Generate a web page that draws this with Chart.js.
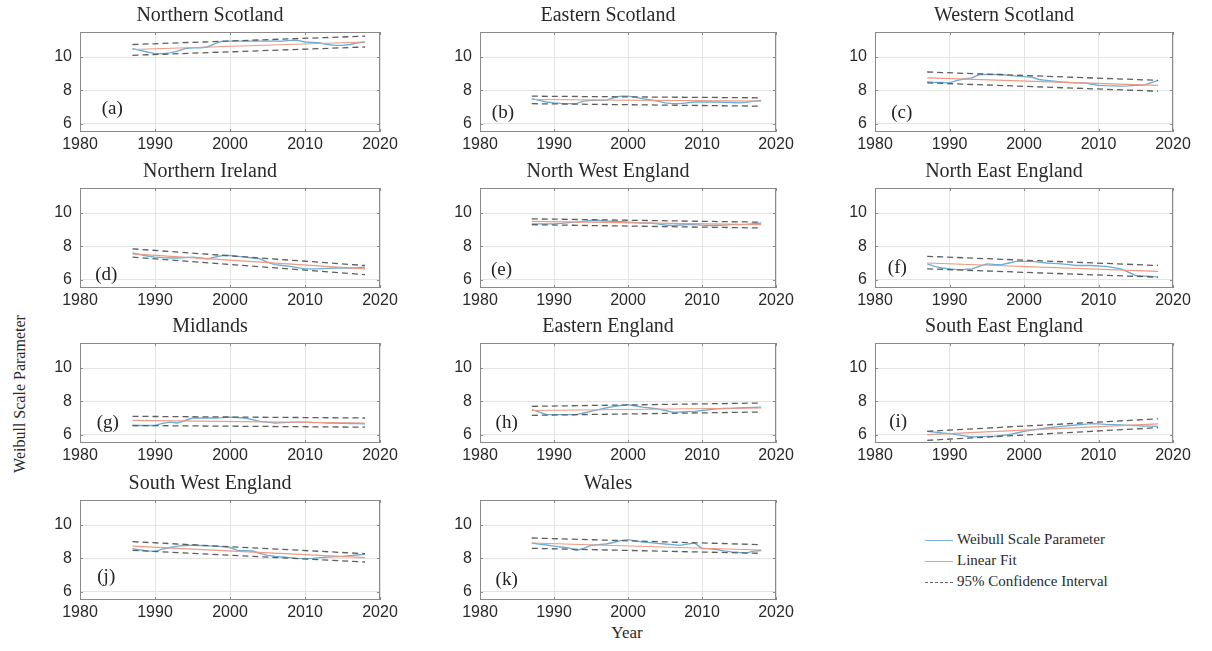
<!DOCTYPE html>
<html lang="en">
<head>
<meta charset="UTF-8">
<title>Weibull Scale Parameter by region</title>
<script src="https://cdn.jsdelivr.net/npm/chart.js@4.4.1/dist/chart.umd.min.js"></script>
<style>
  body { margin: 0; background: #fff; }
  #wrap { position: relative; width: 1212px; height: 651px; overflow: hidden; background: #fff; }
  #wrap canvas { position: absolute; }
  .serif { position: absolute; font-family: 'Liberation Serif', 'DejaVu Serif', serif; color: #2a2a2a; white-space: nowrap; }
  #ylab { left: 20px; top: 394px; font-size: 16px; transform: translate(-50%, -50%) rotate(-90deg); }
  #xlab { left: 627px; top: 633px; font-size: 17px; transform: translate(-50%, -50%); }
  .leg { position: absolute; left: 925px; font-family: 'Liberation Serif', serif; font-size: 15px; color: #2a2a2a; }
  .leg span.ln { position: absolute; left: 0; top: 0; width: 28px; height: 0; }
  .leg span.tx { position: absolute; left: 32px; top: -9px; white-space: nowrap; }
</style>
</head>
<body>
<div id="wrap">
  <div id="ylab" class="serif">Weibull Scale Parameter</div>
  <div id="xlab" class="serif">Year</div>
  <div class="leg" style="top:540px"><span class="ln" style="border-top:1.3px solid #7fb6d8"></span><span class="tx">Weibull Scale Parameter</span></div>
  <div class="leg" style="top:561px"><span class="ln" style="border-top:1.3px solid #eaa08c"></span><span class="tx">Linear Fit</span></div>
  <div class="leg" style="top:582px"><span class="ln" style="border-top:1.3px dashed #666"></span><span class="tx">95% Confidence Interval</span></div>
</div>

<script>
  // ---- data ----
  const regions = ['Northern Scotland', 'Eastern Scotland', 'Western Scotland',
                   'Northern Ireland', 'North West England', 'North East England',
                   'Midlands', 'Eastern England', 'South East England',
                   'South West England', 'Wales'];
  const tags = ['(a)', '(b)', '(c)', '(d)', '(e)', '(f)', '(g)', '(h)', '(i)', '(j)', '(k)'];

  const years = [1987, 1988, 1989, 1990, 1991, 1992, 1993, 1994, 1995, 1996, 1997,
                 1998, 1999, 2000, 2001, 2002, 2003, 2004, 2005, 2006, 2007, 2008,
                 2009, 2010, 2011, 2012, 2013, 2014, 2015, 2016, 2017, 2018];
  const xTicks = [1980, 1990, 2000, 2010, 2020];
  const yTicks = [6, 8, 10];

  const nScotland = [10.5, 10.4, 10.3, 10.2, 10.2, 10.25, 10.35, 10.5, 10.55, 10.55, 10.6, 10.8, 10.95, 10.95, 10.95, 10.95,
                     10.95, 10.95, 10.95, 10.95, 10.95, 11.0, 11.0, 10.9, 10.88, 10.85, 10.75, 10.7, 10.7, 10.75, 10.85, 10.9];
  const eScotland = [7.5, 7.4, 7.3, 7.25, 7.22, 7.2, 7.2, 7.35, 7.4, 7.4, 7.4, 7.55, 7.65, 7.65, 7.58, 7.5,
                     7.42, 7.35, 7.25, 7.2, 7.2, 7.25, 7.3, 7.3, 7.3, 7.3, 7.28, 7.27, 7.25, 7.28, 7.35, 7.4];
  const wScotland = [8.5, 8.48, 8.47, 8.45, 8.6, 8.68, 8.75, 8.95, 8.95, 8.95, 8.95, 8.9, 8.85, 8.82, 8.8, 8.65,
                     8.6, 8.55, 8.5, 8.47, 8.45, 8.45, 8.38, 8.3, 8.28, 8.27, 8.25, 8.27, 8.3, 8.3, 8.45, 8.6];
  const nIreland  = [7.6, 7.5, 7.42, 7.35, 7.32, 7.3, 7.3, 7.32, 7.35, 7.3, 7.25, 7.35, 7.45, 7.45, 7.4, 7.35,
                     7.3, 7.25, 7.05, 6.9, 6.85, 6.8, 6.72, 6.65, 6.65, 6.65, 6.68, 6.7, 6.7, 6.7, 6.72, 6.75];
  const nwEngland = [9.35, 9.35, 9.35, 9.35, 9.38, 9.42, 9.45, 9.5, 9.55, 9.55, 9.52, 9.5, 9.48, 9.45, 9.42, 9.4,
                     9.4, 9.35, 9.28, 9.25, 9.28, 9.3, 9.3, 9.27, 9.25, 9.25, 9.27, 9.3, 9.3, 9.32, 9.36, 9.4];
  const neEngland = [6.95, 6.8, 6.7, 6.65, 6.6, 6.62, 6.65, 6.8, 6.95, 6.92, 6.9, 7.0, 7.1, 7.1, 7.1, 7.05,
                     7.0, 6.98, 6.95, 6.9, 6.85, 6.85, 6.85, 6.82, 6.8, 6.72, 6.65, 6.45, 6.25, 6.22, 6.2, 6.15];
  const midlands  = [6.55, 6.55, 6.55, 6.55, 6.68, 6.75, 6.7, 6.85, 7.0, 7.0, 7.0, 7.0, 7.02, 7.05, 7.03, 7.0,
                     6.9, 6.8, 6.75, 6.7, 6.72, 6.74, 6.75, 6.75, 6.73, 6.72, 6.7, 6.7, 6.68, 6.67, 6.66, 6.65];
  const eEngland  = [7.5, 7.35, 7.2, 7.2, 7.2, 7.2, 7.2, 7.3, 7.4, 7.5, 7.6, 7.68, 7.75, 7.8, 7.72, 7.65,
                     7.6, 7.55, 7.45, 7.35, 7.36, 7.38, 7.4, 7.45, 7.5, 7.55, 7.57, 7.58, 7.6, 7.62, 7.64, 7.65];
  const seEngland = [6.2, 6.15, 6.1, 6.06, 6.0, 5.93, 5.86, 5.88, 5.9, 5.9, 5.95, 6.0, 6.1, 6.2, 6.27, 6.33,
                     6.4, 6.45, 6.5, 6.54, 6.58, 6.62, 6.66, 6.65, 6.62, 6.6, 6.58, 6.56, 6.54, 6.52, 6.51, 6.5];
  const swEngland = [8.58, 8.5, 8.45, 8.42, 8.55, 8.65, 8.73, 8.77, 8.79, 8.77, 8.75, 8.73, 8.7, 8.65, 8.48, 8.46,
                     8.44, 8.3, 8.18, 8.12, 8.08, 8.04, 8.0, 7.98, 8.0, 8.04, 8.07, 8.1, 8.12, 8.16, 8.2, 8.24];
  const wales     = [8.92, 8.85, 8.8, 8.73, 8.68, 8.63, 8.47, 8.6, 8.78, 8.82, 8.86, 8.95, 9.06, 9.12, 9.05, 8.98,
                     8.94, 8.9, 8.86, 8.82, 8.78, 8.85, 8.92, 8.59, 8.57, 8.53, 8.45, 8.39, 8.35, 8.33, 8.43, 8.47];
  const weibull = [nScotland, eScotland, wScotland, nIreland, nwEngland, neEngland,
                   midlands, eEngland, seEngland, swEngland, wales];

  // linear fit and 95% band, values at the first and last year
  const fitYears  = [1987, 2018];
  const fitStart  = [10.45, 7.45, 8.75, 7.55, 9.5, 7.0, 6.86, 7.45, 6.0, 8.73, 8.92];
  const fitEnd    = [10.9, 7.35, 8.3, 6.65, 9.3, 6.5, 6.7, 7.6, 6.65, 8.04, 8.5];
  const ciUpStart = [10.75, 7.65, 9.1, 7.85, 9.65, 7.4, 7.1, 7.7, 6.2, 9.0, 9.22];
  const ciUpEnd   = [11.25, 7.55, 8.6, 6.85, 9.45, 6.85, 7.0, 7.9, 6.95, 8.28, 8.82];
  const ciLoStart = [10.1, 7.2, 8.45, 7.35, 9.3, 6.65, 6.55, 7.16, 5.66, 8.48, 8.6];
  const ciLoEnd   = [10.6, 7.05, 7.95, 6.3, 9.1, 6.15, 6.45, 7.36, 6.42, 7.78, 8.3];

  // where the panel letter sits, in axis units
  const tagX = [1984.3, 1983.1, 1983.6, 1983.5, 1982.9, 1983.0, 1983.7, 1983.6, 1983.1, 1983.5, 1983.6];
  const tagY = [6.9, 6.66, 6.66, 6.28, 6.58, 6.7, 6.7, 6.7, 6.76, 6.88, 6.7];

  // ---- layout of the grid ----
  const colLeft = [80, 480, 875];
  const colW = [300, 296, 298];
  const rowTop = [32, 188, 343, 500];
  const boxH = 100;
  const TITLE_H = 27, YAX_W = 40, PAD_L = 4, PAD_R = 22, XAX_H = 24, PAD_B = 2;

  const tickFont = { family: "'Liberation Sans', Arial, sans-serif", size: 16 };

  const framePlugin = {
    id: 'frame',
    afterDraw(chart) {
      const { ctx, chartArea: a, scales } = chart;
      ctx.save();
      ctx.strokeStyle = '#8a8a8a';
      ctx.lineWidth = 1;
      ctx.strokeRect(Math.round(a.left) + 0.5, Math.round(a.top) + 0.5,
                     Math.round(a.width) - 1, Math.round(a.height) - 1);
      ctx.beginPath();
      xTicks.forEach(v => {
        const px = Math.round(scales.x.getPixelForValue(v)) + 0.5;
        ctx.moveTo(px, a.top); ctx.lineTo(px, a.top + 3);
        ctx.moveTo(px, a.bottom); ctx.lineTo(px, a.bottom - 3);
      });
      yTicks.forEach(v => {
        const py = Math.round(scales.y.getPixelForValue(v)) + 0.5;
        ctx.moveTo(a.left, py); ctx.lineTo(a.left + 3, py);
        ctx.moveTo(a.right, py); ctx.lineTo(a.right - 3, py);
      });
      ctx.stroke();
      ctx.restore();
    }
  };

  const tagPlugin = {
    id: 'tag',
    afterDatasetsDraw(chart, args, opts) {
      const { ctx, scales } = chart;
      ctx.save();
      ctx.font = "19px 'Liberation Serif', serif";
      ctx.fillStyle = '#222';
      ctx.textAlign = 'center';
      ctx.textBaseline = 'middle';
      ctx.fillText(opts.text, scales.x.getPixelForValue(opts.x), scales.y.getPixelForValue(opts.y));
      ctx.restore();
    }
  };

  const wrap = document.getElementById('wrap');

  regions.forEach((name, i) => {
    const col = i % 3, row = Math.floor(i / 3);
    const cv = document.createElement('canvas');
    const w = PAD_L + YAX_W + colW[col] + PAD_R;
    const h = TITLE_H + boxH + XAX_H + PAD_B;
    cv.width = w; cv.height = h;
    cv.style.left = (colLeft[col] - PAD_L - YAX_W) + 'px';
    cv.style.top = (rowTop[row] - TITLE_H) + 'px';
    cv.style.width = w + 'px'; cv.style.height = h + 'px';
    wrap.appendChild(cv);

    const dashed = {
      borderColor: '#5e5e5e', borderWidth: 1.3, borderDash: [6, 4],
      pointRadius: 0, fill: false, tension: 0
    };

    new Chart(cv, {
      type: 'line',
      data: {
        datasets: [
          Object.assign({ label: '95% Confidence Interval',
            data: fitYears.map((yr, k) => ({ x: yr, y: [ciUpStart[i], ciUpEnd[i]][k] })) }, dashed),
          Object.assign({ label: '95% Confidence Interval (lower)',
            data: fitYears.map((yr, k) => ({ x: yr, y: [ciLoStart[i], ciLoEnd[i]][k] })) }, dashed),
          {
            label: 'Linear Fit',
            data: fitYears.map((yr, k) => ({ x: yr, y: [fitStart[i], fitEnd[i]][k] })),
            borderColor: '#eb9a84', borderWidth: 1.1, pointRadius: 0, fill: false
          },
          {
            label: 'Weibull Scale Parameter',
            data: years.map((yr, k) => ({ x: yr, y: weibull[i][k] })),
            borderColor: '#6aaed6', borderWidth: 1.4, pointRadius: 0, fill: false, tension: 0
          }
        ]
      },
      options: {
        responsive: false,
        animation: false,
        events: [],
        devicePixelRatio: 1,
        layout: { padding: { left: PAD_L, right: PAD_R, top: 0, bottom: PAD_B } },
        plugins: {
          legend: { display: false },
          tooltip: { enabled: false },
          title: {
            display: true, text: name, color: '#2a2a2a',
            font: { family: "'Liberation Serif', 'DejaVu Serif', serif", size: 20, weight: 'normal', lineHeight: '22px' },
            padding: { top: 0, bottom: 5 }
          },
          tag: { text: tags[i], x: tagX[i], y: tagY[i] }
        },
        scales: {
          x: {
            type: 'linear', min: 1980, max: 2020,
            afterBuildTicks: s => { s.ticks = xTicks.map(v => ({ value: v })); },
            afterFit: s => { s.height = XAX_H; },
            grid: { color: '#e4e4e4', drawTicks: false },
            border: { display: false },
            ticks: { color: '#2a2a2a', font: tickFont, padding: 3, maxRotation: 0, autoSkip: false,
                     callback: v => String(v) }
          },
          y: {
            min: 5.5, max: 11.5,
            afterBuildTicks: s => { s.ticks = yTicks.map(v => ({ value: v })); },
            afterFit: s => { s.width = YAX_W; },
            grid: { color: '#e4e4e4', drawTicks: false },
            border: { display: false },
            ticks: { color: '#2a2a2a', font: tickFont, padding: 8, callback: v => String(v) }
          }
        }
      },
      plugins: [framePlugin, tagPlugin]
    });
  });
</script>
</body>
</html>
